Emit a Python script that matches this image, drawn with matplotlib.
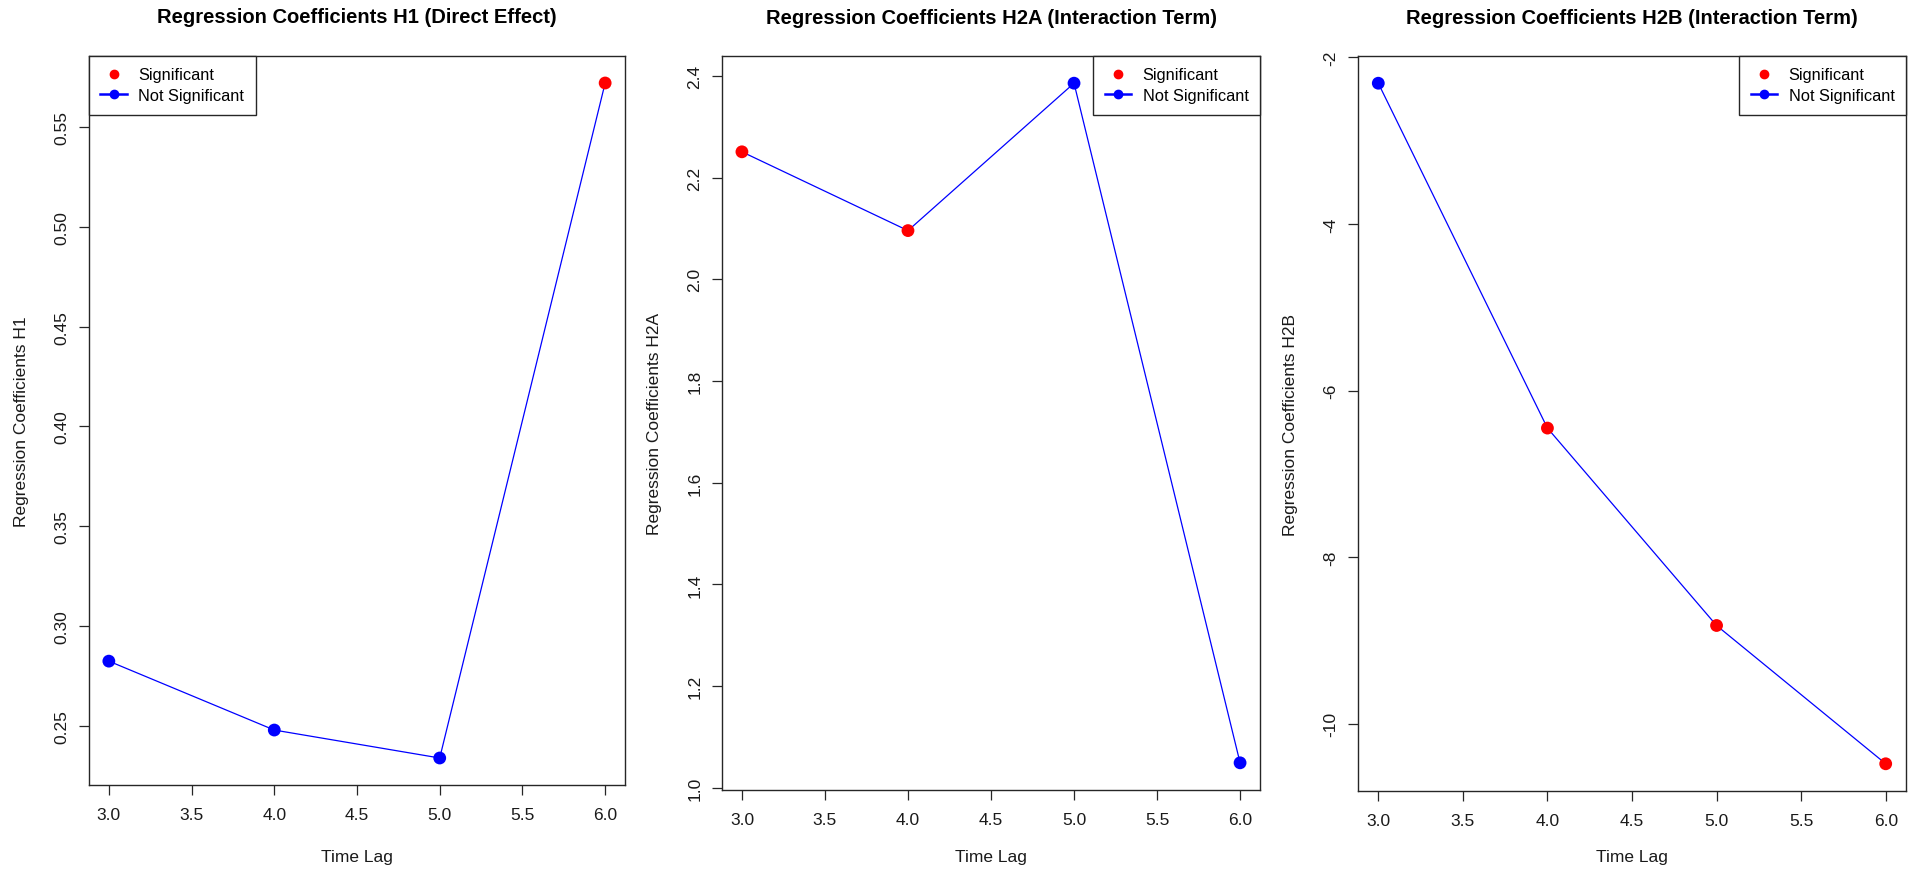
import matplotlib
matplotlib.use("Agg")
import matplotlib.pyplot as plt
from matplotlib.lines import Line2D
from matplotlib.ticker import FixedLocator, FormatStrFormatter

plt.rcParams["font.family"] = ["Liberation Sans", "DejaVu Sans"]

# Data
time_lag = [3, 4, 5, 6]
coef_h1 = [0.2825, 0.248, 0.234, 0.572]
coef_h2a = [2.251, 2.096, 2.386, 1.049]
coef_h2b = [-2.31, -6.45, -8.82, -10.48]
sig_h1 = [False, False, False, True]
sig_h2a = [True, True, False, False]
sig_h2b = [False, True, True, True]

titles = [
    "Regression Coefficients H1 (Direct Effect)",
    "Regression Coefficients H2A (Interaction Term)",
    "Regression Coefficients H2B (Interaction Term)",
]
ylabels = [
    "Regression Coefficients H1",
    "Regression Coefficients H2A",
    "Regression Coefficients H2B",
]
xticks = [3.0, 3.5, 4.0, 4.5, 5.0, 5.5, 6.0]
yticks_h1 = [0.25, 0.30, 0.35, 0.40, 0.45, 0.50, 0.55]
yticks_h2a = [1.0, 1.2, 1.4, 1.6, 1.8, 2.0, 2.2, 2.4]
yticks_h2b = [-10, -8, -6, -4, -2]
legend_labels = ["Significant", "Not Significant"]

W, H = 1913, 879
fig = plt.figure(figsize=(W / 100, H / 100), dpi=100)

# panel boxes in pixels: left, right, top, bottom
boxes = [(89, 625, 57, 786), (722, 1260, 57, 791), (1358, 1906, 57, 792)]
panels = [
    (coef_h1, sig_h1, yticks_h1, "%.2f", "upper left"),
    (coef_h2a, sig_h2a, yticks_h2a, "%.1f", "upper right"),
    (coef_h2b, sig_h2b, yticks_h2b, "%d", "upper right"),
]

edge = "#262626"
txt = "#1a1a1a"
for i, ((l, r, t, b), (vals, sig, yt, yfmt, loc)) in enumerate(zip(boxes, panels)):
    ax = fig.add_axes([l / W, 1 - b / H, (r - l) / W, (b - t) / H])
    ax.plot(time_lag, vals, color="blue", lw=0.9, zorder=2)
    cols = ["red" if s else "blue" for s in sig]
    ax.scatter(time_lag, vals, c=cols, s=85, zorder=3, linewidths=0)
    ax.margins(x=0.04, y=0.04)
    ax.xaxis.set_major_locator(FixedLocator(xticks))
    ax.yaxis.set_major_locator(FixedLocator(yt))
    ax.xaxis.set_major_formatter(FormatStrFormatter("%.1f"))
    ax.yaxis.set_major_formatter(FormatStrFormatter(yfmt))
    for s in ax.spines.values():
        s.set_color(edge)
        s.set_linewidth(1.0)
    ax.tick_params(axis="both", direction="out", length=7, width=0.9,
                   color=edge, labelsize=12.5, labelcolor=txt)
    ax.tick_params(axis="x", pad=9)
    ax.tick_params(axis="y", pad=7)
    for lab in ax.get_yticklabels():
        lab.set_rotation(90)
        lab.set_va("center")
    height = b - t
    width = r - l
    ax.set_title(titles[i], fontsize=14.5, fontweight="bold", va="center",
                 y=1 + (t - 18) / height, pad=0)
    ax.set_xlabel("Time Lag", fontsize=12.5, va="center", color=txt)
    ax.xaxis.set_label_coords(0.5, -(858 - b) / height)
    ax.set_ylabel(ylabels[i], fontsize=12.5, va="center", color=txt)
    ax.yaxis.set_label_coords(-67 / width, 0.5)

    handles = [
        Line2D([], [], color="red", marker="o", linestyle="None", markersize=6),
        Line2D([], [], color="blue", marker="o", lw=1.8, markersize=6),
    ]
    leg = ax.legend(handles, legend_labels, loc=loc, borderaxespad=0,
                    fancybox=False, framealpha=1, edgecolor=edge, fontsize=11.8,
                    handlelength=1.6, handletextpad=0.7, labelspacing=0.35,
                    borderpad=0.7)
    leg.get_frame().set_linewidth(1.0)

fig.savefig("out.png", dpi=100)
